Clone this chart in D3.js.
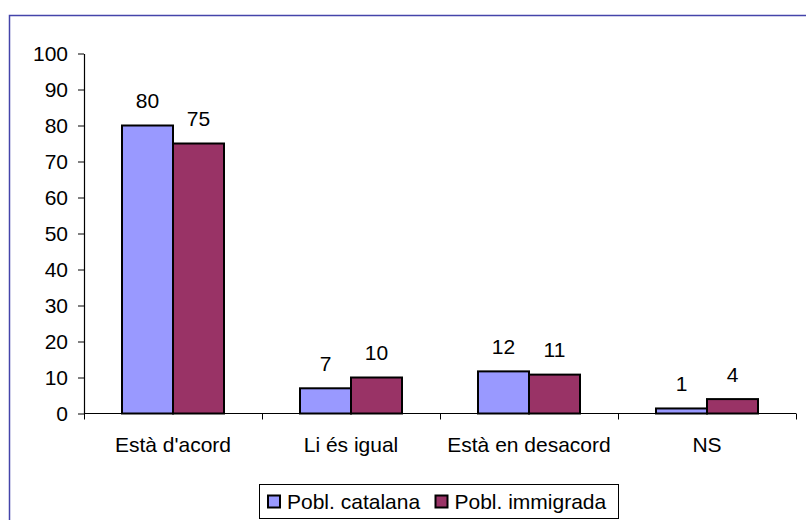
<!DOCTYPE html>
<html>
<head>
<meta charset="utf-8">
<script src="https://cdn.jsdelivr.net/npm/d3@7"></script>
<style>
  body { margin: 0; background: #fff; }
  svg { display: block; font-family: "Liberation Sans", Arial, sans-serif; }
</style>
</head>
<body>
<svg id="chart"></svg>
<script>
const categories = ["Està d'acord", "Li és igual", "Està en desacord", "NS"];
const seriesNames = ["Pobl. catalana", "Pobl. immigrada"];
const catalana = [80, 7, 11.7, 1.4];
const immigrada = [75, 10, 10.8, 4];
const yTicks = [0, 10, 20, 30, 40, 50, 60, 70, 80, 90, 100];
const colors = ["#9999FF", "#993366"];

const width = 806, height = 520;
const fontSize = 21;
const svg = d3.select("#chart").attr("width", width).attr("height", height);

// blue frame (top and left only visible)
svg.append("path")
  .attr("d", `M9.5,${height} V15.5 H${width}`)
  .attr("fill", "none")
  .attr("stroke", "#4444AA")
  .attr("stroke-width", 1.5);

const x0 = d3.scaleBand().domain(categories).range([84, 796]);
const x1 = d3.scaleBand().domain(seriesNames).range([38, x0.bandwidth() - 38]);
const y = d3.scaleLinear().domain([0, 100]).range([413.5, 53.5]);

// y axis
const yAxis = svg.append("g")
  .attr("transform", "translate(84,0)")
  .call(d3.axisLeft(y).tickValues(yTicks).tickSize(6).tickPadding(10).tickSizeOuter(0));
yAxis.select(".domain").attr("stroke", "#000").attr("stroke-width", 1.2);
yAxis.selectAll(".tick line").attr("stroke", "#000");
yAxis.selectAll(".tick text")
  .style("font-size", fontSize + "px")
  .style("font-family", "Liberation Sans, Arial, sans-serif")
  .attr("fill", "#000");

// x axis
const xAxis = svg.append("g").attr("transform", "translate(0,413.5)");
xAxis.append("line").attr("x1", 84).attr("x2", 796).attr("stroke", "#000").attr("stroke-width", 1.2);
const bounds = categories.map(c => x0(c)).concat([x0(categories[categories.length - 1]) + x0.bandwidth()]);
xAxis.selectAll("line.tk").data(bounds).enter().append("line")
  .attr("class", "tk")
  .attr("x1", d => Math.round(d) + 0.5).attr("x2", d => Math.round(d) + 0.5)
  .attr("y1", 0).attr("y2", 6).attr("stroke", "#000");
xAxis.selectAll("text").data(categories).enter().append("text")
  .attr("x", d => x0(d) + x0.bandwidth() / 2)
  .attr("y", 38.5)
  .attr("text-anchor", "middle")
  .style("font-size", fontSize + "px")
  .text(d => d);

// bars
const rows = categories.map((c, i) => ({ cat: c, vals: [catalana[i], immigrada[i]] }));
const groups = svg.selectAll("g.grp").data(rows).enter().append("g")
  .attr("class", "grp")
  .attr("transform", d => `translate(${x0(d.cat)},0)`);

groups.selectAll("rect").data(d => d.vals.map((v, j) => ({ v, s: seriesNames[j], j })))
  .enter().append("rect")
  .attr("x", d => x1(d.s))
  .attr("y", d => y(d.v))
  .attr("width", x1.bandwidth())
  .attr("height", d => y(0) - y(d.v))
  .attr("fill", d => colors[d.j])
  .attr("stroke", "#000")
  .attr("stroke-width", 2);

groups.selectAll("text").data(d => d.vals.map((v, j) => ({ v, s: seriesNames[j] })))
  .enter().append("text")
  .attr("x", d => x1(d.s) + x1.bandwidth() / 2)
  .attr("y", d => y(d.v) - 17.5)
  .attr("text-anchor", "middle")
  .style("font-size", fontSize + "px")
  .text(d => d3.format(".0f")(d.v));

// legend
const legend = svg.append("g").attr("transform", "translate(259.5,484.5)");
legend.append("rect").attr("width", 359).attr("height", 34)
  .attr("fill", "#fff").attr("stroke", "#000").attr("stroke-width", 1);
const items = legend.selectAll("g").data(seriesNames).enter().append("g")
  .attr("transform", (d, i) => `translate(${i === 0 ? 8.5 : 176},11)`);
items.append("rect").attr("width", 12).attr("height", 12)
  .attr("fill", (d, i) => colors[i]).attr("stroke", "#000").attr("stroke-width", 2);
items.append("text").attr("x", 19).attr("y", 13).style("font-size", fontSize + "px").text(d => d);
</script>
</body>
</html>
